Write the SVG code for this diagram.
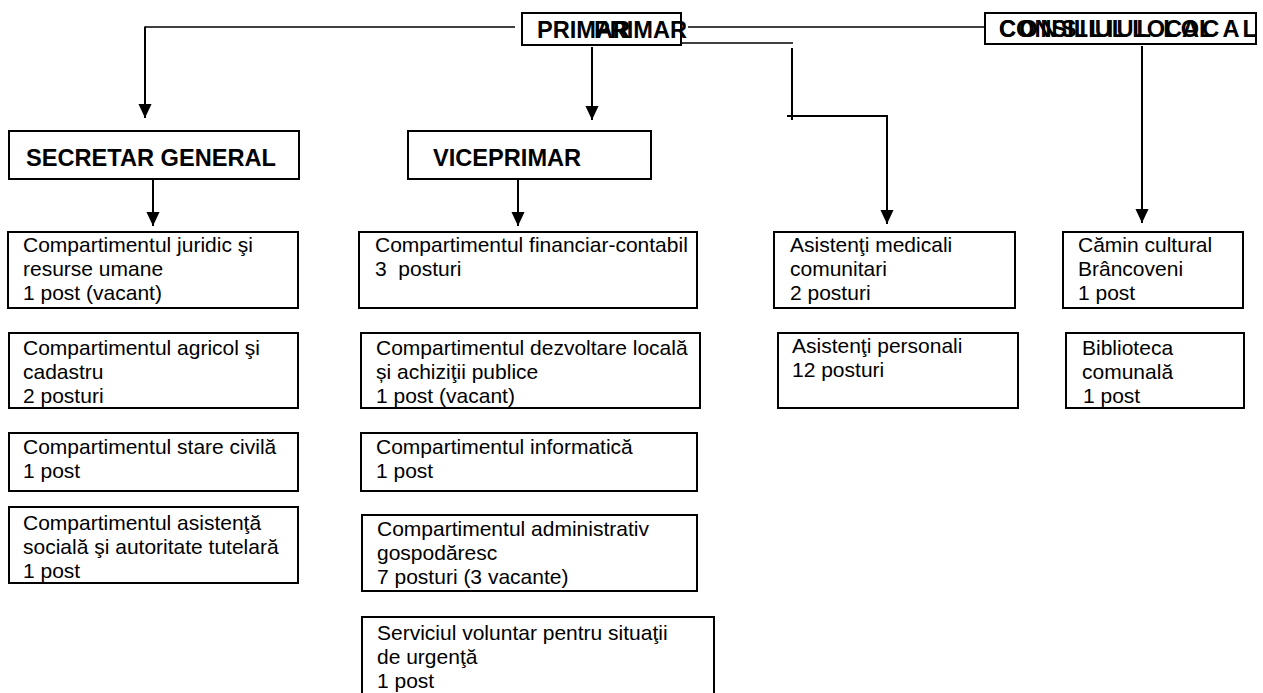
<svg xmlns="http://www.w3.org/2000/svg" width="1263" height="693" viewBox="0 0 1263 693">
<style>
.box{fill:#fff;stroke:#000;stroke-width:2}
.t{font-family:"Liberation Sans",Arial,sans-serif;font-size:21px;fill:#000}
.h{font-family:"Liberation Sans",Arial,sans-serif;font-size:23.6px;font-weight:bold;fill:#000}
.c{stroke:#000;stroke-width:2;fill:none}
.ct{stroke:#000;stroke-width:1.6;fill:none}
</style>
<defs>
<marker id="ah" markerWidth="14" markerHeight="15" refX="15" refY="7" orient="auto" markerUnits="userSpaceOnUse" viewBox="0 0 15 14"><path d="M0,0 L15,7 L0,14 z" fill="#000"/></marker>
</defs>
<rect width="1263" height="693" fill="#fff"/>
<g id="connectors">
<polyline class="ct" points="515,27 145,27" />
<line class="c" x1="145" y1="26.5" x2="145" y2="118" marker-end="url(#ah)"/>
<line class="c" x1="592" y1="47" x2="592" y2="120" marker-end="url(#ah)"/>
<line class="ct" x1="688" y1="27" x2="984" y2="27"/>
<line class="ct" x1="682" y1="43" x2="793" y2="43"/>
<line class="c" x1="792" y1="48" x2="792" y2="120"/>
<line class="c" x1="787" y1="116" x2="888" y2="116"/>
<line class="c" x1="887" y1="116" x2="887" y2="224" marker-end="url(#ah)"/>
<line class="c" x1="1142" y1="46" x2="1142" y2="223" marker-end="url(#ah)"/>
<line class="c" x1="153" y1="179" x2="153" y2="226" marker-end="url(#ah)"/>
<line class="c" x1="518" y1="179" x2="518" y2="226" marker-end="url(#ah)"/>
</g>
<g id="primar">
<rect class="box" x="522" y="13" width="159" height="32"/>
<text class="h" x="537" y="38" font-size="24">PRIMAR</text>
<text class="h" x="594" y="38" font-size="24">PRIMAR</text>
</g>
<g id="consiliu">
<rect class="box" x="985" y="13" width="271" height="31"/>
<text class="h" x="999" y="37" font-size="24">CONSILIUL LOCAL</text>
<text class="h" x="999" y="37" font-size="24" textLength="258" lengthAdjust="spacing">CONSILIUL LOCAL</text>
</g>
<g id="secretar">
<rect class="box" x="9" y="131" width="290" height="48"/>
<text class="h" x="26" y="166">SECRETAR GENERAL</text>
</g>
<g id="viceprimar">
<rect class="box" x="408" y="131" width="243" height="48"/>
<text class="h" x="433" y="166">VICEPRIMAR</text>
</g>
<g id="juridic">
<rect class="box" x="8" y="232" width="290" height="76"/>
<text class="t"><tspan x="23" y="252">Compartimentul juridic şi</tspan><tspan x="23" y="276">resurse umane</tspan><tspan x="23" y="300">1 post (vacant)</tspan></text>
</g>
<g id="agricol">
<rect class="box" x="9" y="333" width="289" height="75"/>
<text class="t"><tspan x="23" y="355">Compartimentul agricol şi</tspan><tspan x="23" y="379">cadastru</tspan><tspan x="23" y="403">2 posturi</tspan></text>
</g>
<g id="starecivila">
<rect class="box" x="9" y="433" width="289" height="58"/>
<text class="t"><tspan x="23" y="454">Compartimentul stare civilă</tspan><tspan x="23" y="478">1 post</tspan></text>
</g>
<g id="asistenta">
<rect class="box" x="9" y="507" width="289" height="76"/>
<text class="t"><tspan x="23" y="530">Compartimentul asistenţă</tspan><tspan x="23" y="554">socială şi autoritate tutelară</tspan><tspan x="23" y="578">1 post</tspan></text>
</g>
<g id="financiar">
<rect class="box" x="359" y="232" width="338" height="76"/>
<text class="t" xml:space="preserve"><tspan x="375" y="252">Compartimentul financiar-contabil</tspan><tspan x="375" y="276">3  posturi</tspan></text>
</g>
<g id="dezvoltare">
<rect class="box" x="361" y="333" width="339" height="75"/>
<text class="t"><tspan x="376" y="355">Compartimentul dezvoltare locală</tspan><tspan x="376" y="379">și achiziţii publice</tspan><tspan x="376" y="403">1 post (vacant)</tspan></text>
</g>
<g id="informatica">
<rect class="box" x="361" y="433" width="336" height="58"/>
<text class="t"><tspan x="376" y="454">Compartimentul informatică</tspan><tspan x="376" y="478">1 post</tspan></text>
</g>
<g id="administrativ">
<rect class="box" x="362" y="515" width="335" height="76"/>
<text class="t"><tspan x="377" y="536">Compartimentul administrativ</tspan><tspan x="377" y="560">gospodăresc</tspan><tspan x="377" y="584">7 posturi (3 vacante)</tspan></text>
</g>
<g id="serviciul">
<rect class="box" x="362" y="617" width="352" height="90"/>
<text class="t"><tspan x="377" y="640">Serviciul voluntar pentru situaţii</tspan><tspan x="377" y="664">de urgenţă</tspan><tspan x="377" y="688">1 post</tspan></text>
</g>
<g id="medicali">
<rect class="box" x="774" y="232" width="241" height="76"/>
<text class="t"><tspan x="790" y="252">Asistenţi medicali</tspan><tspan x="790" y="276">comunitari</tspan><tspan x="790" y="300">2 posturi</tspan></text>
</g>
<g id="personali">
<rect class="box" x="778" y="333" width="240" height="75"/>
<text class="t"><tspan x="792" y="353">Asistenţi personali</tspan><tspan x="792" y="377">12 posturi</tspan></text>
</g>
<g id="camin">
<rect class="box" x="1063" y="232" width="180" height="76"/>
<text class="t"><tspan x="1078" y="252">Cămin cultural</tspan><tspan x="1078" y="276">Brâncoveni</tspan><tspan x="1078" y="300">1 post</tspan></text>
</g>
<g id="biblioteca">
<rect class="box" x="1066" y="333" width="178" height="75"/>
<text class="t"><tspan x="1082" y="355">Biblioteca</tspan><tspan x="1082" y="379">comunală</tspan><tspan x="1083" y="403">1 post</tspan></text>
</g>
</svg>
